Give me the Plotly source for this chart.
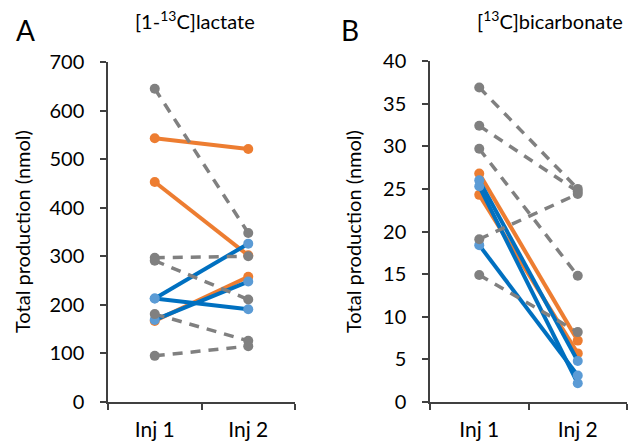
import plotly.graph_objects as go

# Injection labels (categories on the x axes)
injections = ["Inj 1", "Inj 2"]

# Panel A: [1-13C]lactate total production (nmol)
lac_gray_inj1 = [645, 297, 291, 181, 95]
lac_gray_inj2 = [348, 300, 211, 126, 115]
lac_orange_inj1 = [543, 453, 167]
lac_orange_inj2 = [521, 302, 258]
lac_blue_inj1 = [213, 213, 169]
lac_blue_inj2 = [326, 191, 248]

# Panel B: [13C]bicarbonate total production (nmol)
bic_gray_inj1 = [36.9, 32.4, 29.7, 19.1, 14.9]
bic_gray_inj2 = [25.0, 24.7, 14.8, 24.4, 8.2]
bic_orange_inj1 = [26.8, 24.3]
bic_orange_inj2 = [7.2, 5.7]
bic_blue_inj1 = [26.0, 25.3, 18.4]
bic_blue_inj2 = [4.8, 2.2, 3.1]

W, H = 630, 445
FONT = "Lato, Carlito, 'Open Sans', sans-serif"

ORANGE_LINE, ORANGE_MARK = "#ED7D31", "#ED7D31"
BLUE_LINE, BLUE_MARK = "#0070C0", "#5B9BD5"
GRAY = "#808080"

fig = go.Figure()


def add_pairs(inj1, inj2, line_color, mark_color, xa, ya, dash=None, width=4):
    for a, b in zip(inj1, inj2):
        fig.add_trace(go.Scatter(
            x=injections, y=[a, b], mode="lines+markers",
            line=dict(color=line_color, width=width, dash=dash),
            marker=dict(color=mark_color, size=10),
            xaxis=xa, yaxis=ya, showlegend=False, hoverinfo="skip",
        ))


# colored lines first, dashed gray ones on top
add_pairs(lac_orange_inj1, lac_orange_inj2, ORANGE_LINE, ORANGE_MARK, "x", "y")
add_pairs(lac_blue_inj1, lac_blue_inj2, BLUE_LINE, BLUE_MARK, "x", "y")
add_pairs(lac_gray_inj1, lac_gray_inj2, GRAY, GRAY, "x", "y", dash="10px,8px", width=3.5)

add_pairs(bic_orange_inj1, bic_orange_inj2, ORANGE_LINE, ORANGE_MARK, "x2", "y2")
add_pairs(bic_blue_inj1, bic_blue_inj2, BLUE_LINE, BLUE_MARK, "x2", "y2")
add_pairs(bic_gray_inj1, bic_gray_inj2, GRAY, GRAY, "x2", "y2", dash="10px,8px", width=3.5)

y_bottom = (H - 402) / H
y_top = (H - 62) / H

axis_common = dict(
    showline=True, linecolor="#404040", linewidth=1.5,
    ticks="outside", ticklen=6, tickcolor="#404040", tickwidth=1.5,
    showgrid=False, zeroline=False, automargin=False,
)
xfont = dict(family=FONT, size=21, color="black")
yfont = dict(family=FONT, size=20, color="black")

fig.update_layout(
    width=W, height=H,
    margin=dict(l=0, r=0, t=0, b=0, autoexpand=False),
    plot_bgcolor="white", paper_bgcolor="white",
    xaxis=dict(domain=[108 / W, 295 / W], anchor="y", type="category",
               categoryorder="array", categoryarray=injections,
               range=[-0.5, 1.5], tickson="boundaries",
               ticklabelstandoff=8, tickfont=xfont, **axis_common),
    yaxis=dict(domain=[y_bottom, y_top], anchor="x", range=[0, 700], dtick=100,
               ticklabelstandoff=12, tickfont=yfont, **axis_common),
    xaxis2=dict(domain=[430 / W, 627 / W], anchor="y2", type="category",
                categoryorder="array", categoryarray=injections,
                range=[-0.5, 1.5], tickson="boundaries",
                ticklabelstandoff=8, tickfont=xfont, **axis_common),
    yaxis2=dict(domain=[y_bottom, (H - 61) / H], anchor="x2", range=[0, 40], dtick=5,
                ticklabelstandoff=12, tickfont=yfont, **axis_common),
)

annotations = [
    dict(text="A", x=25 / W, y=(H - 30) / H, font=dict(size=28)),
    dict(text="B", x=350 / W, y=(H - 30) / H, font=dict(size=28)),
    dict(text="[1-<sup>13</sup>C]lactate", x=195 / W, y=(H - 20) / H, font=dict(size=20)),
    dict(text="[<sup>13</sup>C]bicarbonate", x=550 / W, y=(H - 20) / H, font=dict(size=20)),
    dict(text="Total production (nmol)", x=22 / W, y=(H - 232) / H,
         textangle=-90, font=dict(size=20)),
    dict(text="Total production (nmol)", x=353 / W, y=(H - 232) / H,
         textangle=-90, font=dict(size=20)),
]
for a in annotations:
    a.update(xref="paper", yref="paper", showarrow=False,
             xanchor="center", yanchor="middle")
    a["font"].update(family=FONT, color="black")
    fig.add_annotation(**a)

fig.write_html("out.html")
